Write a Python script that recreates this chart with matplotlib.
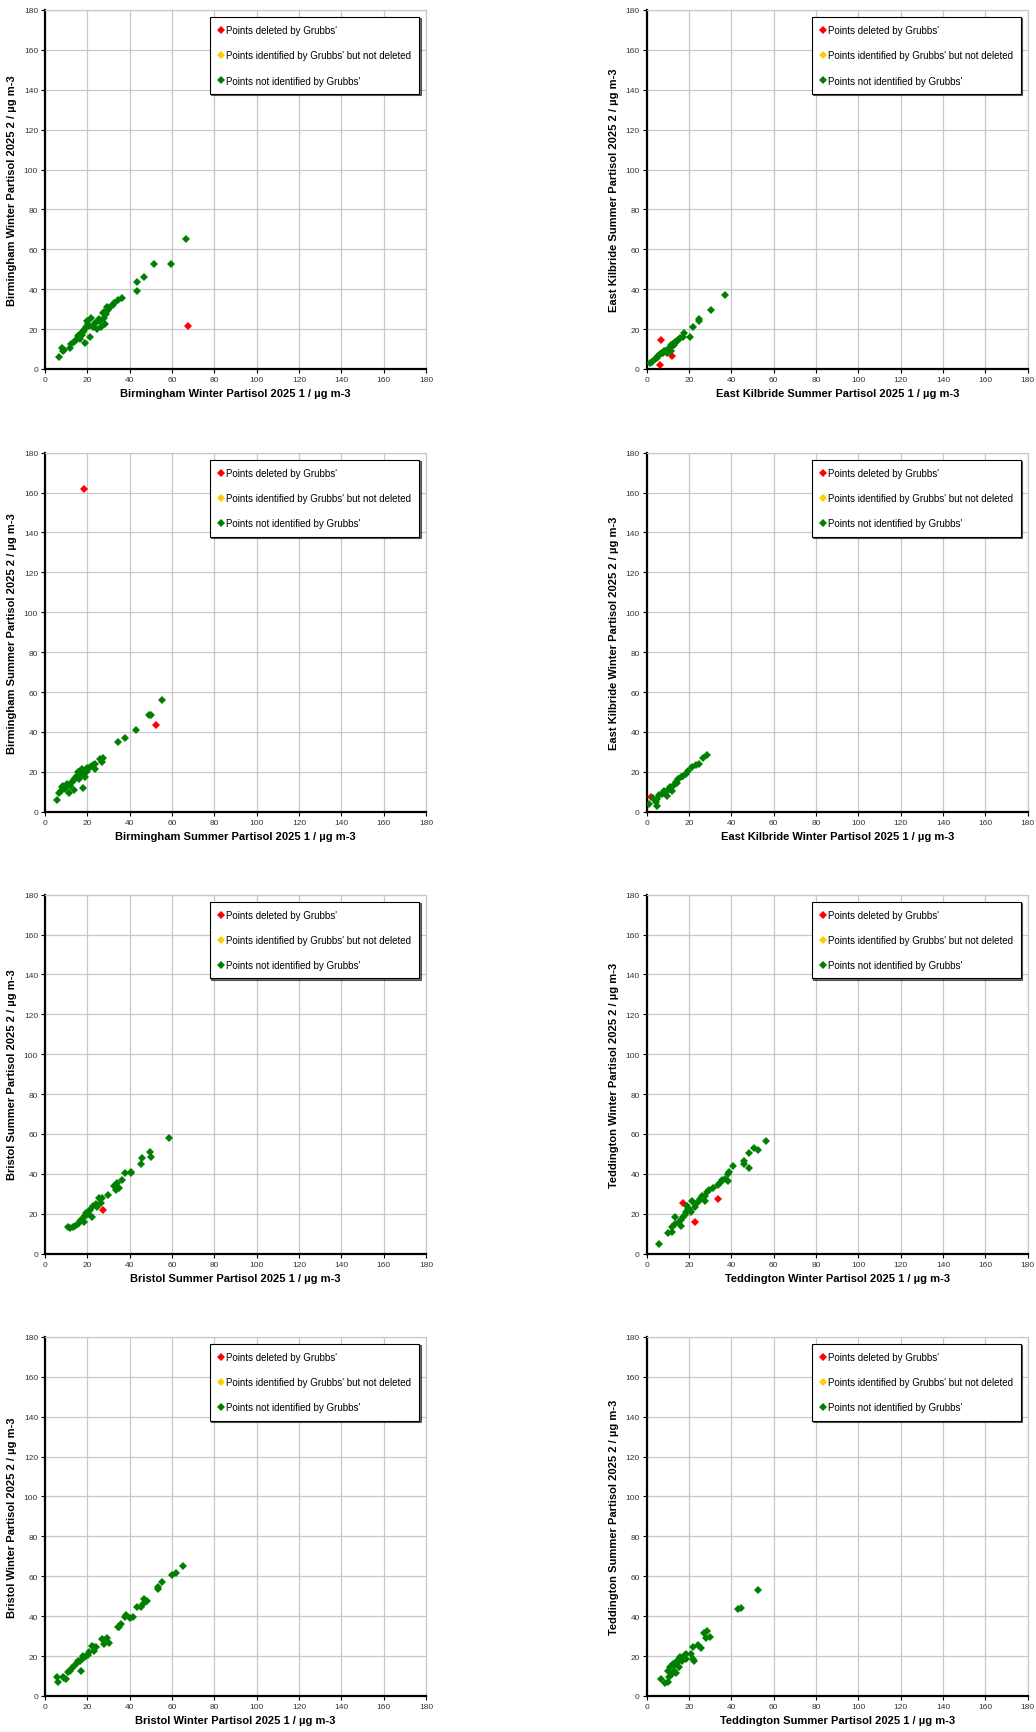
# -*- coding: utf-8 -*-
'''
Partisol duplicate comparison - Grubbs' outlier scatter plots (2025)
'''
import matplotlib
matplotlib.use('Agg')
import matplotlib.pyplot as plt

plt.rcParams['font.family'] = ['Liberation Sans', 'DejaVu Sans']

# 全局常量
AX_MAX = 180
TICKS = list(range(0, 181, 20))
COL_DEL = '#FF0000'
COL_ID = '#FFCC00'
COL_OK = '#008000'
GRID_COL = '#C8C8C8'
LEGEND_LABELS = ["Points deleted by Grubbs'",
                 "Points identified by Grubbs' but not deleted",
                 "Points not identified by Grubbs'"]

################################################
# data

# Birmingham Winter
bw_x = [66.6, 51.4, 59.5, 46.6, 43.7, 43.6, 36.5, 34.6, 32.7, 32.3, 30.8, 29.4, 28.0, 27.2,
        28.8, 28.0, 28.4, 26.7, 25.3, 24.9, 23.8, 24.4, 22.8, 21.6, 20.5, 20.0, 19.2, 18.6,
        18.1, 19.0, 21.2, 17.3, 16.2, 16.5, 14.6, 13.7, 12.1, 11.8, 9.1, 8.0, 8.3, 6.8,
        15.5, 17.8, 20.8, 26.0, 30.0]
bw_y = [65.1, 52.8, 52.4, 45.9, 43.6, 39.1, 35.4, 34.7, 33.2, 31.9, 31.1, 31.1, 28.6, 28.1,
        27.7, 25.7, 22.7, 21.0, 25.2, 23.9, 23.2, 20.2, 21.0, 25.7, 22.7, 23.9, 21.0, 19.4,
        18.5, 13.2, 16.0, 17.2, 16.9, 15.2, 14.4, 13.5, 12.7, 10.5, 9.7, 10.7, 9.0, 6.0,
        16.5, 19.0, 21.5, 24.0, 29.5]
bw_del_x = [67.8]
bw_del_y = [21.7]

# East Kilbride Summer
eks_x = [37.0, 30.6, 24.7, 24.7, 22.0, 20.6, 17.8, 17.3, 15.7, 15.0, 13.4, 12.3, 11.3, 11.0,
         10.2, 9.4, 8.7, 7.9, 7.1, 6.3, 5.5, 4.7, 3.9, 2.4, 1.6, 11.5, 9.4, 12.8, 14.2, 8.2]
eks_y = [36.9, 29.7, 25.2, 24.2, 21.0, 16.0, 18.0, 16.0, 15.5, 14.7, 13.5, 12.7, 11.9, 10.5,
         9.7, 9.4, 8.8, 8.2, 8.0, 7.3, 6.5, 5.5, 4.8, 3.5, 3.0, 8.8, 8.2, 12.0, 13.8, 9.0]
eks_del_x = [6.9, 6.5, 11.8]
eks_del_y = [14.4, 2.2, 6.7]

# Birmingham Summer
bs_x = [55.1, 49.1, 50.0, 43.1, 37.8, 34.6, 27.4, 26.0, 27.1, 23.8, 23.6, 22.5, 21.2, 20.0,
        19.4, 18.9, 17.8, 17.6, 16.5, 15.7, 15.0, 14.2, 13.4, 13.7, 11.8, 11.5, 10.2, 9.4,
        8.3, 7.4, 6.8, 5.8, 7.9, 17.3, 19.7, 16.2, 12.6, 9.1, 18.2, 15.5]
bs_y = [55.8, 48.6, 48.4, 41.1, 37.1, 35.1, 26.9, 26.7, 25.0, 23.9, 21.4, 23.4, 22.5, 21.7,
        19.7, 17.2, 11.9, 21.4, 20.5, 19.7, 18.0, 16.7, 15.5, 10.9, 13.0, 9.4, 13.9, 11.4,
        13.0, 10.5, 9.4, 5.8, 12.2, 18.9, 20.5, 16.4, 14.7, 12.2, 19.5, 17.5]
bs_del_x = [18.3, 52.5]
bs_del_y = [161.6, 43.4]

# East Kilbride Winter
ekw_x = [28.3, 26.5, 24.9, 23.3, 21.3, 19.7, 18.6, 17.3, 16.1, 15.0, 13.9, 12.6, 11.8, 10.2,
         9.1, 8.2, 7.1, 6.0, 5.0, 4.4, 4.7, 3.1, 1.3, 11.0, 9.4, 14.5]
ekw_y = [28.7, 27.2, 23.9, 23.4, 22.2, 20.5, 18.9, 17.7, 17.2, 16.4, 15.0, 13.0, 10.5, 11.0,
         9.7, 10.5, 8.8, 8.3, 6.3, 5.0, 3.0, 6.7, 3.8, 12.2, 8.0, 14.5]
ekw_del_x = [1.9]
ekw_del_y = [7.2]

# Bristol Summer
brs_x = [58.4, 49.7, 50.2, 45.8, 45.3, 40.6, 40.6, 37.8, 36.5, 34.1, 32.6, 35.1, 33.5, 29.7,
         27.1, 25.5, 26.4, 24.1, 22.8, 24.4, 22.0, 20.9, 20.1, 18.9, 17.8, 18.4, 16.5, 15.4,
         14.2, 13.4, 11.8, 11.0, 21.5, 19.5]
brs_y = [58.2, 51.1, 48.5, 47.9, 44.9, 41.2, 40.2, 40.2, 36.9, 35.2, 34.0, 32.9, 31.9, 29.4,
         27.9, 27.9, 25.2, 24.9, 24.0, 23.2, 18.5, 21.5, 19.9, 19.0, 17.7, 15.7, 16.5, 14.8,
         14.0, 13.2, 12.7, 13.2, 22.0, 20.5]
brs_del_x = [27.4]
brs_del_y = [22.0]

# Teddington Winter
tw_x = [56.5, 52.6, 50.6, 48.5, 48.2, 45.8, 46.1, 40.6, 38.9, 38.6, 38.6, 37.0, 35.4, 34.6,
        33.9, 31.5, 29.6, 28.7, 27.6, 26.0, 25.2, 27.6, 24.4, 22.8, 21.4, 22.8, 20.5, 19.2,
        18.6, 18.1, 17.3, 16.4, 16.1, 15.1, 13.4, 13.4, 11.8, 11.8, 10.2, 6.0, 19.7, 21.0]
tw_y = [56.6, 52.1, 53.1, 50.4, 43.2, 46.5, 44.9, 44.0, 41.2, 39.9, 36.5, 37.4, 36.9, 35.4,
        34.4, 32.9, 31.9, 31.0, 28.9, 29.0, 27.4, 26.2, 25.7, 24.9, 26.2, 23.2, 21.9, 24.0,
        20.7, 19.4, 18.2, 16.9, 14.0, 15.7, 18.5, 14.8, 13.2, 11.0, 10.2, 4.8, 22.4, 21.0]
tw_del_x = [17.2, 22.7, 33.7]
tw_del_y = [25.2, 15.8, 27.2]

# Bristol Winter
bri_x = [65.1, 61.7, 60.0, 55.1, 53.4, 53.4, 48.1, 47.0, 46.3, 45.6, 43.7, 41.4, 40.1, 38.5,
         37.8, 35.8, 34.6, 35.2, 30.2, 29.1, 27.8, 27.1, 27.8, 24.1, 23.3, 22.0, 23.1, 20.9,
         20.5, 18.9, 17.8, 17.3, 16.5, 15.4, 16.8, 14.9, 13.7, 12.6, 11.0, 11.8, 9.0, 8.3,
         6.3, 5.5, 9.9]
bri_y = [65.3, 61.5, 60.7, 57.0, 54.8, 53.5, 47.7, 48.7, 46.3, 44.7, 44.7, 39.7, 39.3, 40.5,
         39.7, 36.3, 34.8, 34.7, 26.3, 29.0, 28.0, 28.5, 26.0, 24.3, 24.7, 25.2, 22.7, 21.8,
         20.5, 19.3, 20.2, 18.5, 17.3, 17.7, 12.7, 16.3, 15.2, 14.0, 11.8, 12.7, 8.8, 9.7,
         6.8, 9.7, 8.5]
bri_del_x = []
bri_del_y = []

# Teddington Summer
ts_x = [52.6, 44.4, 43.3, 29.9, 28.3, 27.1, 28.0, 25.5, 24.4, 22.0, 22.5, 22.0, 21.0, 18.4,
        18.6, 17.3, 16.5, 15.7, 15.4, 14.2, 13.4, 13.0, 11.8, 12.3, 11.0, 10.2, 10.7, 10.2,
        8.7, 6.6, 13.9, 15.0]
ts_y = [53.0, 44.3, 43.8, 29.7, 32.7, 31.5, 29.0, 24.0, 25.5, 24.7, 17.7, 18.5, 21.0, 21.0,
        18.5, 19.3, 17.3, 19.7, 14.3, 17.7, 15.7, 12.7, 11.0, 16.0, 14.3, 12.7, 9.3, 6.8,
        6.3, 8.5, 11.3, 16.8]
ts_del_x = []
ts_del_y = []

# panel order: left column then right column, row by row
panels = [
    ('Birmingham Winter', bw_x, bw_y, bw_del_x, bw_del_y),
    ('East Kilbride Summer', eks_x, eks_y, eks_del_x, eks_del_y),
    ('Birmingham Summer', bs_x, bs_y, bs_del_x, bs_del_y),
    ('East Kilbride Winter', ekw_x, ekw_y, ekw_del_x, ekw_del_y),
    ('Bristol Summer', brs_x, brs_y, brs_del_x, brs_del_y),
    ('Teddington Winter', tw_x, tw_y, tw_del_x, tw_del_y),
    ('Bristol Winter', bri_x, bri_y, bri_del_x, bri_del_y),
    ('Teddington Summer', ts_x, ts_y, ts_del_x, ts_del_y),
]

################################################
# layout (figure fractions)
col_left = [0.0434, 0.6242]
row_bottom = [0.7865, 0.5310, 0.2760, 0.0208]
ax_w = 0.3678
ax_h = 0.2072

fig = plt.figure(figsize=(10.36, 17.33), dpi=100)

for i, (site, x, y, dx, dy) in enumerate(panels):
    r, c = divmod(i, 2)
    ax = fig.add_axes([col_left[c], row_bottom[r], ax_w, ax_h])

    h_del, = ax.plot(dx, dy, 'D', color=COL_DEL, ms=3.8, mew=0, zorder=3)
    h_id, = ax.plot([], [], 'D', color=COL_ID, ms=3.8, mew=0, zorder=3)
    h_ok, = ax.plot(x, y, 'D', color=COL_OK, ms=3.8, mew=0, zorder=3)

    ax.set_xlim(0, AX_MAX)
    ax.set_ylim(0, AX_MAX)
    ax.set_xticks(TICKS)
    ax.set_yticks(TICKS)
    ax.grid(True, color=GRID_COL, lw=0.9)
    ax.set_axisbelow(True)
    ax.tick_params(labelsize=6, colors='black', labelcolor='#333333',
                   length=3, width=0.8, pad=2)

    for s in ['left', 'bottom']:
        ax.spines[s].set_linewidth(1.6)
        ax.spines[s].set_color('black')
    for s in ['top', 'right']:
        ax.spines[s].set_linewidth(0.9)
        ax.spines[s].set_color(GRID_COL)

    ax.set_xlabel(site + ' Partisol 2025 1 / \u00b5g m-3', fontsize=8, fontweight='bold', labelpad=4)
    ax.set_ylabel(site + ' Partisol 2025 2 / \u00b5g m-3', fontsize=8, fontweight='bold', labelpad=5)

    leg = ax.legend([h_del, h_id, h_ok], LEGEND_LABELS, loc='upper left',
                    bbox_to_anchor=(0.433, 0.980), borderaxespad=0, fontsize=7,
                    handlelength=0.6, handletextpad=0.2, labelspacing=1.55,
                    borderpad=0.85, fancybox=False, framealpha=1,
                    shadow={'color': 'black', 'alpha': 0.55, 'ox': 1, 'oy': -1})
    leg.get_frame().set_edgecolor('black')
    leg.get_frame().set_linewidth(0.8)
    leg.set_zorder(5)

plt.savefig('out.png', dpi=100)
